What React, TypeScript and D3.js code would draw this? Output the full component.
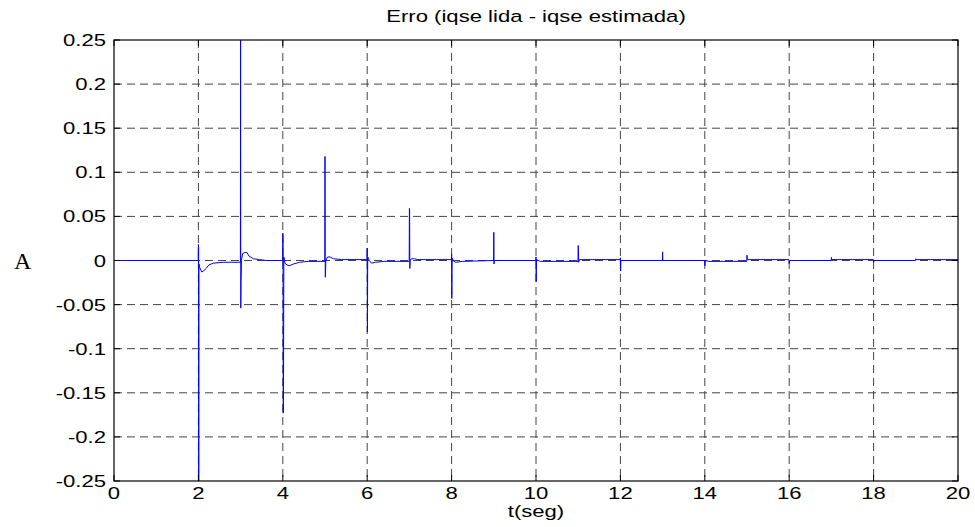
import React from "react";
import * as d3 from "d3";

const timeSec: number[] = [
  0, 1.995, 2.0, 2.006, 2.008, 2.012, 2.03, 2.08, 2.12, 2.18, 2.25, 2.35, 2.6, 2.995,
  3.0, 3.004, 3.01, 3.02, 3.05, 3.1, 3.15, 3.2, 3.3, 3.45, 3.6, 3.995,
  4.0, 4.006, 4.01, 4.016, 4.025, 4.05, 4.1, 4.15, 4.25, 4.4, 4.6, 4.995,
  5.0, 5.006, 5.01, 5.02, 5.06, 5.12, 5.2, 5.4, 5.995,
  6.0, 6.005, 6.012, 6.05, 6.1, 6.2, 6.4, 6.995,
  7.0, 7.005, 7.01, 7.02, 7.06, 7.12, 7.2, 7.995,
  8.0, 8.005, 8.012, 8.05, 8.1, 8.25, 8.995,
  9.0, 9.005, 9.012, 9.995,
  10.0, 10.005, 10.012, 10.1, 10.995,
  11.0, 11.006, 11.01, 11.03, 11.995,
  12.0, 12.005, 12.012, 12.995,
  13.0, 13.006, 13.995,
  14.0, 14.008, 14.1, 14.995,
  15.0, 15.008, 15.995,
  16.0, 16.008, 16.995,
  17.0, 17.008, 17.995,
  18.0, 18.008, 18.995,
  19.0, 19.008, 20.0,
];

const erroA: number[] = [
  0, 0, 0.018, 0.014, -0.26, -0.004, -0.008, -0.013, -0.012, -0.009, -0.005, -0.003, -0.002, -0.002,
  0.26, -0.054, -0.025, 0.0, 0.008, 0.009, 0.009, 0.005, 0.002, 0.001, 0.0, 0.0,
  0.031, 0.025, -0.173, -0.16, 0.004, -0.003, -0.005, -0.006, -0.004, -0.002, -0.001, -0.001,
  0.118, -0.019, -0.018, 0.0, 0.004, 0.004, 0.002, 0.001, 0.001,
  0.014, -0.081, 0.004, 0.0, -0.003, -0.002, -0.001, -0.001,
  0.059, 0.057, -0.009, 0.001, 0.002, 0.002, 0.001, 0.001,
  0.007, -0.043, 0.003, -0.001, -0.002, -0.001, 0.0,
  0.032, -0.004, 0.0, 0.0,
  0.004, -0.024, 0.001, -0.001, -0.001,
  0.017, 0.012, -0.002, 0.001, 0.001,
  0.003, -0.012, 0.0, 0.0,
  0.0098, 0.0, 0.0,
  -0.006, 0.0, -0.001, -0.001,
  0.006, 0.001, 0.001,
  -0.0035, 0.0, 0.0,
  0.0035, 0.001, 0.001,
  -0.002, 0.0, 0.0,
  0.002, 0.001, 0.001,
];

const xTicks: number[] = [0, 2, 4, 6, 8, 10, 12, 14, 16, 18, 20];
const yTicks: number[] = [0.25, 0.2, 0.15, 0.1, 0.05, 0, -0.05, -0.1, -0.15, -0.2, -0.25];
const yTickLabels: string[] = ["0.25", "0.2", "0.15", "0.1", "0.05", "0", "-0.05", "-0.1", "-0.15", "-0.2", "-0.25"];
const titleText = "Erro (iqse lida - iqse estimada)";
const xLabel = "t(seg)";
const yLabel = "A";

const W = 975;
const H = 527;
const L = 114, R = 958, T = 40, B = 481;
const FONT = "'Liberation Sans', Arial, sans-serif";
const SX = 1.3;
const FS = 17;

export default function App() {
  const x = d3.scaleLinear().domain([0, 20]).range([L, R]);
  const y = d3.scaleLinear().domain([-0.25, 0.25]).range([B, T]);
  const pts: [number, number][] = timeSec.map((t, i) => [t, erroA[i]]);
  const line = d3.line<[number, number]>().x(d => x(d[0])).y(d => y(d[1]));
  const tickLen = 6;
  return (
    <svg width={W} height={H} style={{ position: "absolute", left: 0, top: 0, background: "#fff" }}>
      <defs>
        <clipPath id="plotclip">
          <rect x={L} y={T} width={R - L} height={B - T} />
        </clipPath>
      </defs>
      <rect x={0} y={0} width={W} height={H} fill="#fff" />
      {/* grid */}
      <g stroke="#444" strokeWidth={1} strokeDasharray="8,5" fill="none">
        {xTicks.slice(1, -1).map(t => (
          <line key={"gx" + t} x1={x(t)} x2={x(t)} y1={T} y2={B} />
        ))}
        {yTicks.slice(1, -1).map(t => (
          <line key={"gy" + t} x1={L} x2={R} y1={y(t)} y2={y(t)} />
        ))}
      </g>
      {/* data */}
      <path d={line(pts) || ""} fill="none" stroke="#0000ff" strokeWidth={1} clipPath="url(#plotclip)" />
      {/* box */}
      <rect x={L} y={T} width={R - L} height={B - T} fill="none" stroke="#000" strokeWidth={1.2} />
      {/* ticks */}
      <g stroke="#000" strokeWidth={1}>
        {xTicks.map(t => (
          <g key={"tx" + t}>
            <line x1={x(t)} x2={x(t)} y1={B} y2={B - tickLen} />
            <line x1={x(t)} x2={x(t)} y1={T} y2={T + tickLen} />
          </g>
        ))}
        {yTicks.map(t => (
          <g key={"ty" + t}>
            <line x1={L} x2={L + tickLen} y1={y(t)} y2={y(t)} />
            <line x1={R} x2={R - tickLen} y1={y(t)} y2={y(t)} />
          </g>
        ))}
      </g>
      {/* tick labels */}
      <g fontFamily={FONT} fontSize={FS} fill="#000">
        {xTicks.map(t => (
          <g key={"lx" + t} transform={`translate(${x(t)},${B + 18}) scale(${SX},1)`}>
            <text textAnchor="middle">{String(t)}</text>
          </g>
        ))}
        {yTicks.map((t, i) => (
          <g key={"ly" + t} transform={`translate(${L - 8},${y(t) + 6}) scale(${SX},1)`}>
            <text textAnchor="end">{yTickLabels[i]}</text>
          </g>
        ))}
        <g transform={`translate(${(L + R) / 2},${22}) scale(${SX},1)`}>
          <text textAnchor="middle">{titleText}</text>
        </g>
        <g transform={`translate(${(L + R) / 2},${B + 36}) scale(${SX},1)`}>
          <text textAnchor="middle">{xLabel}</text>
        </g>
      </g>
      <text x={14} y={269} fontFamily="'Liberation Serif', 'Times New Roman', serif" fontSize={24} fill="#000">
        {yLabel}
      </text>
    </svg>
  );
}
